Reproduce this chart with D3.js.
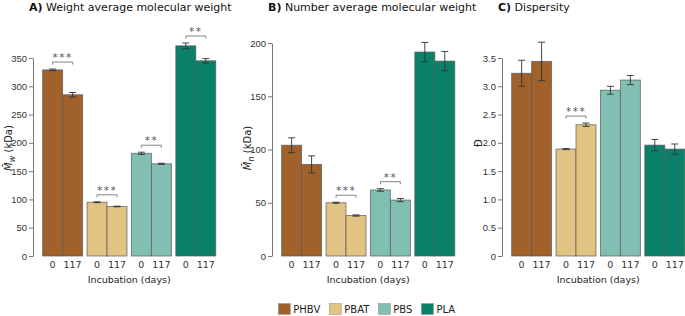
<!DOCTYPE html>
<html>
<head>
<meta charset="utf-8">
<script src="https://cdn.jsdelivr.net/npm/d3@7"></script>
<style>
  body { margin: 0; background: #fff; }
  svg { font-family: "DejaVu Sans", Verdana, sans-serif; }
  .tick text { fill: #333; font-size: 9.5px; }
  .tick line, .domain { stroke: #777; }
</style>
</head>
<body>
<svg width="685" height="316"></svg>
<script>
// data
var groups = ["PHBV", "PBAT", "PBS", "PLA"];
var days = ["0", "117"];
var colors = ["#a0612a", "#e1c384", "#80bfb1", "#0b8169"];

var mwMean = [[329, 285], [95, 87.5], [181.5, 163], [371.5, 345]];
var mwErr  = [[1.5, 4], [0.8, 0.6], [2, 1], [5, 4]];
var mnMean = [[104, 86], [50, 38], [62, 52.5], [191.5, 183]];
var mnErr  = [[7, 8], [0.5, 0.6], [1.2, 1.5], [9, 9]];
var dMean  = [[3.23, 3.44], [1.89, 2.32], [2.93, 3.11], [1.96, 1.89]];
var dErr   = [[0.23, 0.34], [0.01, 0.03], [0.07, 0.08], [0.1, 0.09]];

var mwSig = [[0, "***"], [1, "***"], [2, "**"], [3, "**"]];
var mnSig = [[1, "***"], [2, "**"]];
var dSig  = [[1, "***"]];

var mwTicks = [0, 50, 100, 150, 200, 250, 300, 350];
var mnTicks = [0, 50, 100, 150, 200];
var dTicks  = [0, 0.5, 1, 1.5, 2, 2.5, 3, 3.5];

var svg = d3.select("svg");
var y0 = 256;

var panels = [
  { x: 33, letter: "A)", title: " Weight average molecular weight", mean: mwMean, err: mwErr, sig: mwSig,
    ticks: mwTicks, top: 58, fmt: function(d) { return d; }, ylab: "w" },
  { x: 272, letter: "B)", title: " Number average molecular weight", mean: mnMean, err: mnErr, sig: mnSig,
    ticks: mnTicks, top: 43, fmt: function(d) { return d; }, ylab: "n" },
  { x: 502, letter: "C)", title: " Dispersity", mean: dMean, err: dErr, sig: dSig,
    ticks: dTicks, top: 58, fmt: function(d) { return d === 0 ? "0" : d.toFixed(1); }, ylab: null }
];

panels.forEach(function(p) {
  var g = svg.append("g");

  var y = d3.scaleLinear()
    .domain([0, d3.max(p.ticks)])
    .range([y0, p.top]);

  var x0 = d3.scaleBand()
    .domain(groups)
    .range([p.x + 5.2, p.x + 187.2])
    .paddingInner(0.1)
    .paddingOuter(0.1);

  var x1 = d3.scaleBand()
    .domain(days)
    .range([0, x0.bandwidth()]);

  // title
  var t = g.append("text")
    .attr("x", p.x - 4)
    .attr("y", 11)
    .style("font-size", "11px")
    .attr("fill", "#111");
  t.append("tspan").attr("font-weight", "bold").text(p.letter);
  t.append("tspan").text(p.title);

  // y axis
  g.append("g")
    .attr("transform", "translate(" + p.x + ",0)")
    .call(d3.axisLeft(y).tickValues(p.ticks).tickFormat(p.fmt).tickSize(4).tickSizeOuter(0).tickPadding(2));

  // y label
  var yl = g.append("text")
    .attr("transform", p.ylab ? "translate(" + (p.x - 24) + ",148) rotate(-90)" : "translate(" + (p.x - 23) + ",143) rotate(-90)")
    .attr("text-anchor", "middle")
    .attr("dominant-baseline", "middle")
    .attr("fill", "#222")
    .style("font-size", "10px");
  if (p.ylab) {
    yl.append("tspan").attr("font-style", "italic").text("M\u0304");
    yl.append("tspan").attr("font-style", "italic").attr("dy", 2.5).style("font-size", "8px").text(p.ylab);
    yl.append("tspan").attr("dy", -2.5).text(" (kDa)");
  } else {
    yl.text("\u0110");
  }

  // bars
  groups.forEach(function(grp, gi) {
    var gg = g.append("g").attr("transform", "translate(" + x0(grp) + ",0)");
    var rows = days.map(function(dd, di) {
      return { day: dd, v: p.mean[gi][di], e: p.err[gi][di] };
    });

    gg.selectAll("rect")
      .data(rows)
      .enter().append("rect")
      .attr("x", function(d) { return x1(d.day); })
      .attr("y", function(d) { return y(d.v); })
      .attr("width", x1.bandwidth())
      .attr("height", function(d) { return y0 - y(d.v); })
      .attr("fill", colors[gi])
      .attr("stroke", "#555")
      .attr("stroke-opacity", 0.75)
      .attr("stroke-width", 0.9);

    var eb = gg.selectAll("g.err")
      .data(rows)
      .enter().append("g")
      .attr("class", "err")
      .attr("stroke", "#333")
      .attr("stroke-width", 0.9);
    eb.append("line")
      .attr("x1", function(d) { return x1(d.day) + x1.bandwidth() / 2; })
      .attr("x2", function(d) { return x1(d.day) + x1.bandwidth() / 2; })
      .attr("y1", function(d) { return y(d.v + d.e); })
      .attr("y2", function(d) { return y(d.v - d.e); });
    [1, -1].forEach(function(s) {
      eb.append("line")
        .attr("x1", function(d) { return x1(d.day) + x1.bandwidth() / 2 - 3.5; })
        .attr("x2", function(d) { return x1(d.day) + x1.bandwidth() / 2 + 3.5; })
        .attr("y1", function(d) { return y(d.v + s * d.e); })
        .attr("y2", function(d) { return y(d.v + s * d.e); });
    });

    // x tick labels
    gg.selectAll("text.xl")
      .data(days)
      .enter().append("text")
      .attr("class", "xl")
      .attr("x", function(d) { return x1(d) + x1.bandwidth() / 2; })
      .attr("y", 267.5)
      .attr("text-anchor", "middle")
      .attr("fill", "#333")
      .style("font-size", "9.5px")
      .text(function(d) { return d; });
  });

  // significance brackets
  p.sig.forEach(function(s) {
    var gi = s[0];
    var topV = d3.max(days.map(function(dd, di) { return p.mean[gi][di] + p.err[gi][di]; }));
    var by = y(topV) - 7;
    var xa = x0(groups[gi]) + x1.bandwidth() / 2;
    var xb = x0(groups[gi]) + x1.bandwidth() * 1.5;
    g.append("path")
      .attr("d", "M" + xa + "," + (by + 2.5) + "V" + by + "H" + xb + "V" + (by + 2.5))
      .attr("fill", "none")
      .attr("stroke", "#666")
      .attr("stroke-width", 0.8);
    g.append("text")
      .attr("x", (xa + xb) / 2)
      .attr("y", by - 1)
      .attr("text-anchor", "middle")
      .attr("fill", "#555")
      .style("font-size", "10.5px")
      .style("letter-spacing", "1.5px")
      .text(s[1]);
  });

  // x axis title
  g.append("text")
    .attr("x", (x0.range()[0] + x0.range()[1]) / 2)
    .attr("y", 282.5)
    .attr("text-anchor", "middle")
    .attr("fill", "#222")
    .style("font-size", "9.5px")
    .text("Incubation (days)");
});

// legend
var legend = svg.append("g").attr("transform", "translate(0,303.5)");
var lx = 278.3;
groups.forEach(function(grp, i) {
  legend.append("rect")
    .attr("x", lx).attr("y", 0)
    .attr("width", 12).attr("height", 11)
    .attr("fill", colors[i])
    .attr("stroke", "#999")
    .attr("stroke-width", 0.6);
  var tx = legend.append("text")
    .attr("x", lx + 15)
    .attr("y", 9.5)
    .attr("fill", "#222")
    .style("font-size", "10px")
    .text(grp);
  lx = lx + 15 + tx.node().getComputedTextLength() + 9;
});
</script>
</body>
</html>
